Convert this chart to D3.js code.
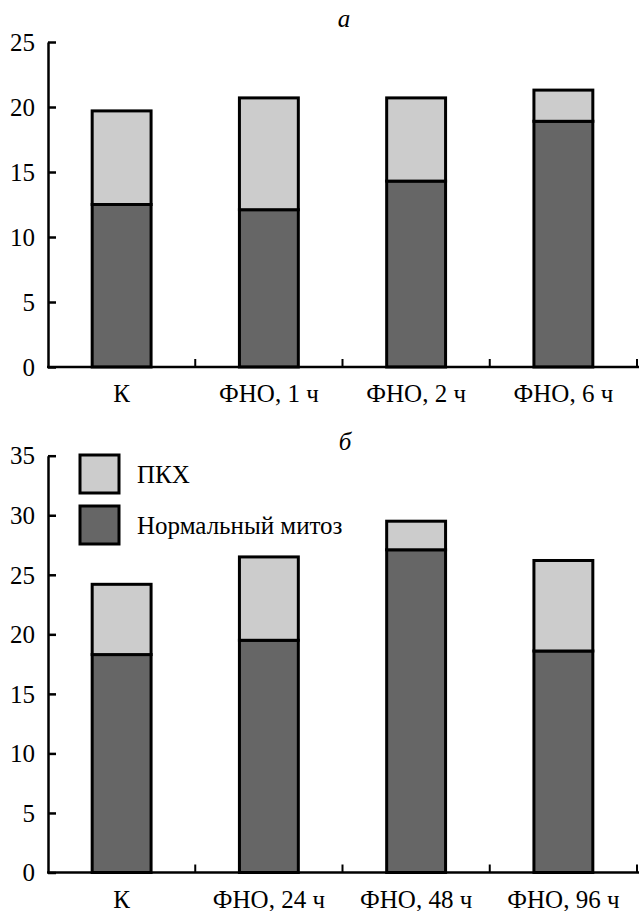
<!DOCTYPE html>
<html>
<head>
<meta charset="utf-8">
<script src="https://cdn.jsdelivr.net/npm/d3@7"></script>
<style>
  body { margin: 0; background: #fff; }
  svg { display: block; }
</style>
</head>
<body>
<svg id="chart" width="639" height="911"></svg>
<script>
// ---- data ----
const catsA = ["К", "ФНО, 1 ч", "ФНО, 2 ч", "ФНО, 6 ч"];
const normalA = [12.5, 12.1, 14.3, 18.9];
const pkhA = [7.2, 8.6, 6.4, 2.4];
const ticksA = [0, 5, 10, 15, 20, 25];

const catsB = ["К", "ФНО, 24 ч", "ФНО, 48 ч", "ФНО, 96 ч"];
const normalB = [18.3, 19.5, 27.1, 18.6];
const pkhB = [5.9, 7.0, 2.4, 7.6];
const ticksB = [0, 5, 10, 15, 20, 25, 30, 35];

const seriesNames = ["ПКХ", "Нормальный митоз"];
const colors = { "ПКХ": "#cccccc", "Нормальный митоз": "#666666" };

const svg = d3.select("#chart");
const FS = 25;
const FF = "Liberation Serif";

function panel(cfg) {
  const g = svg.append("g");
  const x = d3.scaleBand().domain(cfg.cats).range([48, 637]).padding(0);
  const y = d3.scaleLinear().domain([0, cfg.max]).range([cfg.y0, cfg.y1]);
  const bw = x.bandwidth();

  const rows = cfg.cats.map((c, i) => ({ cat: c, normal: cfg.normal[i], pkh: cfg.pkh[i] }));
  const stack = d3.stack().keys(["normal", "pkh"])(rows);
  const fillFor = { normal: colors["Нормальный митоз"], pkh: colors["ПКХ"] };

  stack.forEach(layer => {
    g.selectAll(null).data(layer).enter().append("rect")
      .attr("x", d => x(d.data.cat) + bw * 0.3)
      .attr("width", bw * 0.4)
      .attr("y", d => y(d[1]))
      .attr("height", d => y(d[0]) - y(d[1]))
      .attr("fill", fillFor[layer.key])
      .attr("stroke", "#000")
      .attr("stroke-width", 3);
  });

  const ya = g.append("g").attr("transform", "translate(48,0)")
    .call(d3.axisLeft(y).tickValues(cfg.ticks).tickSizeInner(-8).tickSizeOuter(0).tickPadding(13));
  ya.attr("font-family", null).attr("font-size", null);
  ya.select(".domain").attr("stroke-width", 2.5);
  ya.selectAll(".tick line").attr("stroke-width", 2.5);
  ya.selectAll(".tick text").style("font-family", FF).style("font-size", FS + "px").attr("dy", "0.33em");

  g.append("line").attr("x1", 47).attr("x2", 639).attr("y1", y(0)).attr("y2", y(0))
    .attr("stroke", "#000").attr("stroke-width", 2.5);
  g.selectAll(null).data(cfg.cats).enter().append("line")
    .attr("x1", d => x(d) + bw).attr("x2", d => x(d) + bw)
    .attr("y1", y(0)).attr("y2", y(0) - 8)
    .attr("stroke", "#000").attr("stroke-width", 2);
  g.selectAll(null).data(cfg.cats).enter().append("text")
    .attr("x", d => x(d) + bw / 2)
    .attr("y", y(0) + 35)
    .attr("text-anchor", "middle")
    .style("font-family", FF)
    .style("font-size", FS + "px")
    .text(d => d);

  g.append("text").attr("x", cfg.tx).attr("y", cfg.ty)
    .attr("text-anchor", "middle")
    .style("font-family", FF).style("font-size", FS + "px").style("font-style", "italic")
    .text(cfg.title);
  return g;
}

panel({ cats: catsA, normal: normalA, pkh: pkhA, ticks: ticksA, max: 25, y0: 367, y1: 42, title: "а", tx: 344, ty: 27 });
const gB = panel({ cats: catsB, normal: normalB, pkh: pkhB, ticks: ticksB, max: 35, y0: 872.5, y1: 455.7, title: "б", tx: 345, ty: 450 });

const leg = gB.append("g");
seriesNames.forEach((name, i) => {
  const yy = 455 + i * 51;
  leg.append("rect").attr("x", 80).attr("y", yy).attr("width", 39).attr("height", 38)
    .attr("fill", colors[name]).attr("stroke", "#000").attr("stroke-width", 3);
  leg.append("text").attr("x", 137).attr("y", yy + 28)
    .style("font-family", FF).style("font-size", FS + "px").text(name);
});
</script>
</body>
</html>
